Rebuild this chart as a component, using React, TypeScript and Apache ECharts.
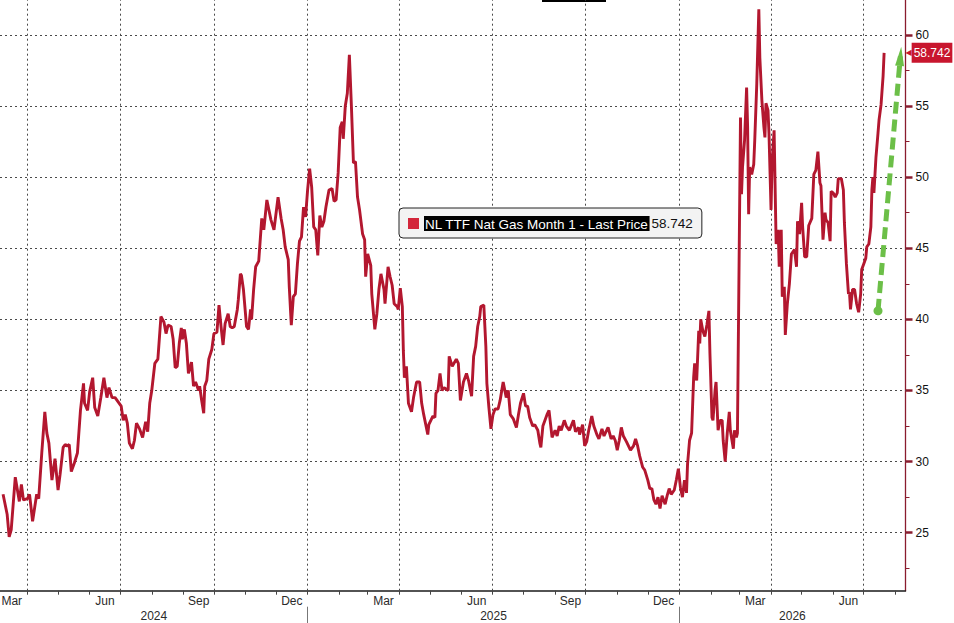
import React, { useEffect, useRef } from 'react';
import * as echarts from 'echarts';

const SERIES_NAME = 'NL TTF Nat Gas Month 1 - Last Price';

// Daily-ish closes, per calendar year: [MM-DD, price]
const prices2024: [string, number][] = [
  ['03-08', 27.7], ['03-12', 26.3], ['03-14', 24.7], ['03-16', 25.2], ['03-20', 28.9], ['03-24', 27.2],
  ['03-26', 28.4], ['03-28', 27.3], ['04-01', 27.4], ['04-03', 27.7], ['04-06', 25.8], ['04-10', 27.7],
  ['04-12', 27.4], ['04-15', 30.6], ['04-18', 33.5], ['04-20', 32.0], ['04-22', 31.3], ['04-25', 28.7],
  ['04-28', 30.2], ['05-01', 28.0], ['05-03', 29.1], ['05-06', 31.0], ['05-08', 31.2], ['05-10', 31.1],
  ['05-12', 31.2], ['05-14', 29.3], ['05-17', 29.9], ['05-20', 30.6], ['05-23', 33.6], ['05-26', 35.5],
  ['05-27', 34.1], ['05-30', 33.6], ['06-01', 34.9], ['06-04', 35.9], ['06-06', 33.8], ['06-09', 33.2],
  ['06-12', 34.5], ['06-15', 35.9], ['06-18', 34.5], ['06-20', 35.2], ['06-23', 34.5], ['06-26', 34.5],
  ['06-29', 34.2], ['07-02', 33.9], ['07-04', 32.9], ['07-06', 33.3], ['07-08', 32.7], ['07-10', 31.3],
  ['07-13', 30.9], ['07-15', 31.5], ['07-17', 32.7], ['07-20', 32.3], ['07-23', 31.7], ['07-26', 32.8],
  ['07-28', 32.1], ['07-30', 34.1], ['08-01', 35.0], ['08-04', 36.9], ['08-07', 37.2], ['08-10', 40.2],
  ['08-13', 39.8], ['08-15', 39.0], ['08-17', 39.6], ['08-20', 39.5], ['08-22', 38.6], ['08-24', 36.6],
  ['08-26', 36.7], ['08-28', 38.3], ['08-30', 39.4], ['08-31', 38.6], ['09-02', 39.3], ['09-04', 38.3],
  ['09-06', 36.2], ['09-08', 36.7], ['09-09', 37.0], ['09-11', 35.3], ['09-13', 35.6], ['09-16', 35.0],
  ['09-17', 35.3], ['09-19', 34.3], ['09-21', 33.4], ['09-22', 35.3], ['09-24', 35.7], ['09-26', 37.2],
  ['09-29', 37.9], ['10-01', 39.0], ['10-04', 39.1], ['10-06', 41.0], ['10-08', 39.5], ['10-10', 38.2],
  ['10-12', 39.7], ['10-15', 40.4], ['10-17', 39.5], ['10-19', 39.4], ['10-21', 39.5], ['10-24', 40.7],
  ['10-25', 41.4], ['10-27', 43.2], ['10-28', 43.1], ['10-30', 42.1], ['11-01', 40.4], ['11-02', 39.5],
  ['11-04', 39.3], ['11-06', 40.7], ['11-07', 40.0], ['11-09', 42.1], ['11-11', 43.7], ['11-14', 44.1],
  ['11-17', 47.1], ['11-19', 46.3], ['11-22', 48.4], ['11-24', 47.7], ['11-26', 47.0], ['11-29', 46.3],
  ['12-03', 48.6], ['12-06', 47.1], ['12-08', 46.3], ['12-10', 45.1], ['12-13', 44.2], ['12-14', 42.3],
  ['12-16', 39.6], ['12-18', 41.6], ['12-20', 41.8], ['12-22', 43.9], ['12-24', 45.5], ['12-26', 45.8],
  ['12-28', 47.9], ['12-30', 47.2],
];

const prices2025: [string, number][] = [
  ['01-01', 49.1], ['01-03', 50.6], ['01-05', 49.3], ['01-07', 46.5], ['01-09', 46.3], ['01-11', 44.5],
  ['01-13', 47.3], ['01-15', 46.5], ['01-17', 46.9], ['01-19', 47.9], ['01-22', 49.1], ['01-25', 49.2],
  ['01-27', 48.3], ['01-29', 48.4], ['01-31', 50.3], ['02-02', 53.5], ['02-04', 53.9], ['02-05', 52.7],
  ['02-07', 55.0], ['02-09', 55.9], ['02-11', 58.6], ['02-13', 55.0], ['02-15', 51.0], ['02-17', 51.1],
  ['02-19', 48.6], ['02-21', 47.7], ['02-24', 46.0], ['02-26', 45.6], ['02-27', 43.0], ['03-01', 44.6],
  ['03-04', 43.8], ['03-05', 41.8], ['03-08', 39.3], ['03-10', 40.4], ['03-12', 42.1], ['03-14', 43.2],
  ['03-17', 42.1], ['03-18', 41.1], ['03-21', 43.7], ['03-23', 43.0], ['03-25', 42.4], ['03-27', 41.1],
  ['03-30', 40.9], ['03-31', 40.7], ['04-02', 42.2], ['04-04', 40.9], ['04-05', 37.8], ['04-06', 35.9],
  ['04-08', 36.7], ['04-10', 34.1], ['04-13', 33.5], ['04-15', 34.5], ['04-18', 35.6], ['04-21', 35.6],
  ['04-23', 34.1], ['04-25', 33.3], ['04-29', 31.9], ['04-30', 32.6], ['05-02', 32.9], ['05-04', 33.2],
  ['05-06', 33.1], ['05-07', 34.8], ['05-09', 35.0], ['05-11', 36.2], ['05-13', 35.0], ['05-15', 35.2],
  ['05-19', 35.0], ['05-20', 37.4], ['05-23', 36.7], ['05-27', 37.2], ['05-29', 36.9], ['05-31', 34.3],
  ['06-03', 35.6], ['06-06', 36.2], ['06-08', 35.7], ['06-11', 34.6], ['06-13', 37.4], ['06-15', 38.1],
  ['06-17', 39.5], ['06-19', 40.2], ['06-20', 40.9], ['06-23', 41.0], ['06-25', 38.1], ['06-26', 35.5],
  ['06-28', 33.8], ['06-30', 32.3], ['07-02', 33.3], ['07-04', 33.7], ['07-07', 33.7], ['07-09', 34.3],
  ['07-12', 35.6], ['07-15', 34.5], ['07-17', 35.0], ['07-19', 33.3], ['07-22', 33.0], ['07-25', 32.4],
  ['07-27', 33.3], ['07-29', 34.1], ['08-01', 34.8], ['08-03', 33.9], ['08-05', 33.9], ['08-07', 33.1],
  ['08-10', 32.5], ['08-12', 32.6], ['08-15', 32.2], ['08-17', 31.3], ['08-18', 31.0], ['08-20', 32.5],
  ['08-24', 33.3], ['08-26', 33.6], ['08-29', 31.7], ['09-01', 32.2], ['09-03', 31.8], ['09-05', 32.5],
  ['09-07', 32.2], ['09-10', 32.9], ['09-12', 32.5], ['09-15', 32.2], ['09-19', 32.9], ['09-21', 32.1],
  ['09-24', 32.4], ['09-25', 31.9], ['09-28', 32.6], ['09-30', 31.1], ['10-02', 31.4], ['10-04', 32.2],
  ['10-07', 33.2], ['10-09', 32.5], ['10-12', 31.9], ['10-14', 31.6], ['10-17', 32.3], ['10-19', 31.8],
  ['10-21', 32.1], ['10-23', 32.4], ['10-26', 31.6], ['10-28', 31.8], ['10-30', 31.5], ['11-01', 30.8],
  ['11-03', 31.5], ['11-05', 32.4], ['11-07', 31.8], ['11-10', 31.4], ['11-12', 31.1], ['11-14', 30.8],
  ['11-17', 31.1], ['11-19', 31.6], ['11-21', 31.1], ['11-23', 30.4], ['11-26', 29.6], ['11-28', 29.4],
  ['12-01', 28.7], ['12-03', 28.1], ['12-05', 28.1], ['12-07', 27.3], ['12-09', 27.0], ['12-11', 27.5],
  ['12-13', 26.7], ['12-15', 27.6], ['12-18', 27.0], ['12-20', 27.6], ['12-22', 28.1], ['12-24', 27.7],
  ['12-27', 28.0], ['12-29', 28.7], ['12-31', 29.5],
];

const prices2026: [string, number][] = [
  ['01-02', 28.2], ['01-04', 27.5], ['01-06', 28.7], ['01-08', 27.8], ['01-09', 29.8], ['01-11', 31.5],
  ['01-13', 32.0], ['01-15', 35.9], ['01-16', 36.9], ['01-18', 35.7], ['01-20', 39.2], ['01-21', 38.3],
  ['01-22', 40.0], ['01-24', 39.2], ['01-26', 38.8], ['01-28', 39.6], ['01-30', 40.6], ['01-31', 37.6],
  ['02-02', 33.1], ['02-03', 32.9], ['02-05', 35.0], ['02-06', 35.6], ['02-08', 32.2], ['02-10', 32.9],
  ['02-12', 32.9], ['02-13', 31.5], ['02-15', 30.0], ['02-17', 32.0], ['02-19', 33.5], ['02-20', 32.2],
  ['02-23', 30.9], ['02-24', 32.2], ['02-26', 31.7], ['02-27', 32.0], ['03-02', 54.2], ['03-03', 48.8],
  ['03-04', 50.7], ['03-06', 52.6], ['03-08', 56.3], ['03-09', 53.5], ['03-10', 47.4], ['03-11', 50.7],
  ['03-13', 50.2], ['03-15', 50.9], ['03-16', 52.6], ['03-18', 56.6], ['03-20', 61.8], ['03-21', 58.4],
  ['03-23', 55.4], ['03-25', 53.5], ['03-26', 52.8], ['03-27', 55.2], ['03-29', 54.7], ['03-30', 53.0],
  ['04-01', 47.7], ['04-02', 51.0], ['04-04', 53.3], ['04-06', 45.3], ['04-08', 46.3], ['04-09', 43.7],
  ['04-11', 46.3], ['04-12', 41.6], ['04-14', 42.3], ['04-15', 38.9], ['04-17', 41.1], ['04-19', 42.5],
  ['04-21', 44.6], ['04-24', 44.9], ['04-26', 43.7], ['04-27', 46.9], ['04-29', 46.0], ['05-01', 48.2],
  ['05-02', 46.5], ['05-04', 44.4], ['05-06', 44.4], ['05-08', 46.6], ['05-11', 47.1], ['05-13', 50.2],
  ['05-15', 50.5], ['05-17', 51.8], ['05-19', 49.6], ['05-20', 49.4], ['05-22', 45.6], ['05-24', 47.5],
  ['05-25', 47.0], ['05-27', 46.8], ['05-29', 45.5], ['05-30', 49.0], ['06-01', 48.9], ['06-03', 48.6],
  ['06-05', 48.9], ['06-06', 49.9], ['06-09', 49.9], ['06-11', 49.1], ['06-12', 46.8], ['06-14', 43.9],
  ['06-16', 41.8], ['06-17', 41.9], ['06-18', 40.7], ['06-20', 42.1], ['06-22', 42.1], ['06-24', 41.1],
  ['06-26', 40.5], ['06-28', 41.8], ['06-29', 43.5], ['07-01', 43.9], ['07-03', 44.3], ['07-04', 45.1],
  ['07-06', 45.3], ['07-08', 46.5], ['07-09', 49.1], ['07-10', 50.0], ['07-11', 48.9], ['07-13', 51.4],
  ['07-15', 53.1], ['07-16', 54.0], ['07-18', 55.1], ['07-20', 57.1], ['07-21', 58.742],
];

// Axis extents and ticks
const axisStartDate = '2024-03-05';
const axisEndDate = '2026-08-11';
const yMin = 20.92;
const yMax = 62.46;
const yTickValues = [25, 30, 35, 40, 45, 50, 55, 60];
const yMinorTickValues = [22.5, 27.5, 32.5, 37.5, 42.5, 47.5, 52.5, 57.5];
const quarterMonths = ['2024-03', '2024-06', '2024-09', '2024-12', '2025-03', '2025-06', '2025-09', '2025-12', '2026-03', '2026-06'];
const monthNames = ['Jan', 'Feb', 'Mar', 'Apr', 'May', 'Jun', 'Jul', 'Aug', 'Sep', 'Oct', 'Nov', 'Dec'];
const yearLabels = [2024, 2025, 2026];

// Annotation arrow (dashed green)
const arrowFrom: [string, number] = ['2026-07-15', 40.6];
const arrowTo: [string, number] = ['2026-08-06', 58.5];

const FONT = '"Liberation Sans", Arial, sans-serif';
const LINE_COLOR = '#b3172f';
const AXIS_RED = '#8a1c2e';

const ts = (s: string) => {
  const [y, m, d] = s.split('-').map(Number);
  return new Date(y, m - 1, d || 1).getTime();
};

function buildOption() {
  const minT = ts(axisStartDate);
  const maxT = ts(axisEndDate);
  const series = [
    ...prices2024.map(([d, v]) => [ts('2024-' + d), v]),
    ...prices2025.map(([d, v]) => [ts('2025-' + d), v]),
    ...prices2026.map(([d, v]) => [ts('2026-' + d), v]),
  ];
  const lastValue = series[series.length - 1][1] as number;

  // quarter month labels at mid-month, gridlines at month end
  const qLabelValues: number[] = [];
  const qGridValues: number[] = [];
  quarterMonths.forEach((qm) => {
    const [y, m] = qm.split('-').map(Number);
    const s = new Date(y, m - 1, 1).getTime();
    const e = new Date(y, m, 1).getTime();
    qLabelValues.push((s + e) / 2);
    if (e <= maxT) qGridValues.push(e);
  });

  // monthly ticks
  const monthTicks: number[] = [];
  const d0 = new Date(minT);
  for (let y = d0.getFullYear(), m = d0.getMonth() + 1; ; m++) {
    const t = new Date(y, m, 1).getTime();
    if (t > maxT) break;
    if (t >= minT) monthTicks.push(t);
  }

  // year separators and centred year labels
  const yearSeps: number[] = [];
  const yearMids: number[] = [];
  yearLabels.forEach((y) => {
    const a = Math.max(minT, new Date(y, 0, 1).getTime());
    const b = Math.min(maxT, new Date(y + 1, 0, 1).getTime());
    yearMids.push((a + b) / 2);
    const j = new Date(y, 0, 1).getTime();
    if (j > minT && j < maxT) yearSeps.push(j);
  });

  const labelText = { fontFamily: FONT, fontSize: 12, color: '#2a2a2a' };

  return {
    animation: false,
    backgroundColor: '#ffffff',
    grid: { left: 0, right: 48.5, top: 0, bottom: 32.3, containLabel: false, outerBoundsMode: 'none' },
    legend: {
      data: [SERIES_NAME],
      left: 399,
      top: 208,
      padding: [8, 9, 7, 9],
      itemWidth: 11,
      itemHeight: 11,
      icon: 'rect',
      itemStyle: { color: '#d3263b' },
      backgroundColor: '#f3f3f3',
      borderColor: '#222',
      borderWidth: 1,
      borderRadius: 4,
      selectedMode: false,
      formatter: (name: string) => `{n|${name}}{v|${lastValue.toFixed(3)}}`,
      textStyle: {
        fontFamily: FONT,
        fontSize: 13.5,
        rich: {
          n: { backgroundColor: '#000', color: '#fff', fontFamily: FONT, fontSize: 13.5, padding: [1, 1, 0, 1] },
          v: { color: '#111', fontFamily: FONT, fontSize: 13.5, padding: [0, 0, 0, 2] },
        },
      },
    },
    xAxis: [
      {
        type: 'value',
        min: minT,
        max: maxT,
        position: 'bottom',
        axisLine: { show: true, onZero: false, lineStyle: { color: '#1a1a1a', width: 1.5 } },
        axisTick: { show: true, customValues: monthTicks, length: 4, lineStyle: { color: '#444', width: 1 } },
        axisLabel: {
          show: true,
          customValues: qLabelValues,
          margin: 4,
          ...labelText,
          formatter: (v: number) => monthNames[new Date(v).getMonth()],
        },
        splitLine: { show: false },
      },
      {
        type: 'value',
        min: minT,
        max: maxT,
        position: 'bottom',
        offset: 16,
        axisLine: { show: false, onZero: false },
        axisTick: { show: true, customValues: yearSeps, length: 17, lineStyle: { color: '#777', width: 1 } },
        axisLabel: {
          show: true,
          customValues: yearMids,
          margin: 3,
          ...labelText,
          formatter: (v: number) => String(new Date(v).getFullYear()),
        },
        splitLine: { show: false },
      },
    ],
    yAxis: [
      {
        type: 'value',
        position: 'right',
        min: yMin,
        max: yMax,
        axisLine: { show: true, onZero: false, lineStyle: { color: AXIS_RED, width: 1.3 } },
        axisTick: { show: true, customValues: yTickValues, length: 7, lineStyle: { color: AXIS_RED, width: 2.5 } },
        axisLabel: { show: true, customValues: yTickValues, margin: 10, ...labelText, color: '#111' },
        splitLine: { show: false },
      },
      {
        type: 'value',
        position: 'right',
        min: yMin,
        max: yMax,
        axisLine: { show: false, onZero: false },
        axisTick: { show: true, customValues: yMinorTickValues, length: 4, lineStyle: { color: AXIS_RED, width: 1 } },
        axisLabel: {
          show: true,
          customValues: [lastValue],
          margin: 0,
          formatter: (v: number) => `{a|◀}{b|${v.toFixed(3)}}`,
          rich: {
            a: { color: '#c8162e', fontSize: 8, fontFamily: '"DejaVu Sans", sans-serif', padding: [0, 0, 0, 0] },
            b: {
              backgroundColor: '#c8162e',
              color: '#fff',
              fontFamily: FONT,
              fontSize: 12,
              padding: [4, 2, 4, 2],
            },
          },
        },
        splitLine: { show: false },
      },
    ],
    graphic: [
      { type: 'rect', left: 542, top: 0, shape: { width: 64, height: 2 }, style: { fill: '#000' }, silent: true },
    ],
    series: [
      {
        name: SERIES_NAME,
        type: 'line',
        xAxisIndex: 0,
        yAxisIndex: 0,
        data: series,
        showSymbol: false,
        symbol: 'none',
        z: 3,
        lineStyle: { color: LINE_COLOR, width: 2.9 },
        itemStyle: { color: LINE_COLOR },
        emphasis: { disabled: true },
        markLine: {
          silent: true,
          symbol: 'none',
          z: 1,
          animation: false,
          label: { show: false },
          emphasis: { disabled: true },
          lineStyle: { color: '#4a4a4a', type: [2, 3], width: 1 },
          data: [...qGridValues.map((v) => ({ xAxis: v })), ...yTickValues.map((v) => ({ yAxis: v }))],
        },
      },
      {
        name: 'arrow',
        type: 'line',
        xAxisIndex: 0,
        yAxisIndex: 0,
        data: [],
        symbol: 'none',
        silent: true,
        z: 5,
        markLine: {
          silent: true,
          z: 6,
          animation: false,
          symbol: ['circle', 'triangle'],
          symbolSize: [9, 19],
          label: { show: false },
          emphasis: { disabled: true },
          itemStyle: { color: '#6cbf48' },
          lineStyle: { color: '#6cbf48', width: 5, type: [12, 6], opacity: 1 },
          data: [[
            { coord: [ts(arrowFrom[0]), arrowFrom[1]] },
            { coord: [ts(arrowTo[0]), arrowTo[1]] },
          ]],
        },
      },
    ],
  };
}

export default function App() {
  const ref = useRef<HTMLDivElement>(null);
  useEffect(() => {
    if (!ref.current) return;
    const chart = echarts.init(ref.current, undefined, { renderer: 'svg' });
    chart.setOption(buildOption() as any);
    return () => chart.dispose();
  }, []);
  return (
    <div
      ref={ref}
      style={{ position: 'absolute', left: 0, top: 0, width: 954, height: 623, background: '#fff' }}
    />
  );
}
